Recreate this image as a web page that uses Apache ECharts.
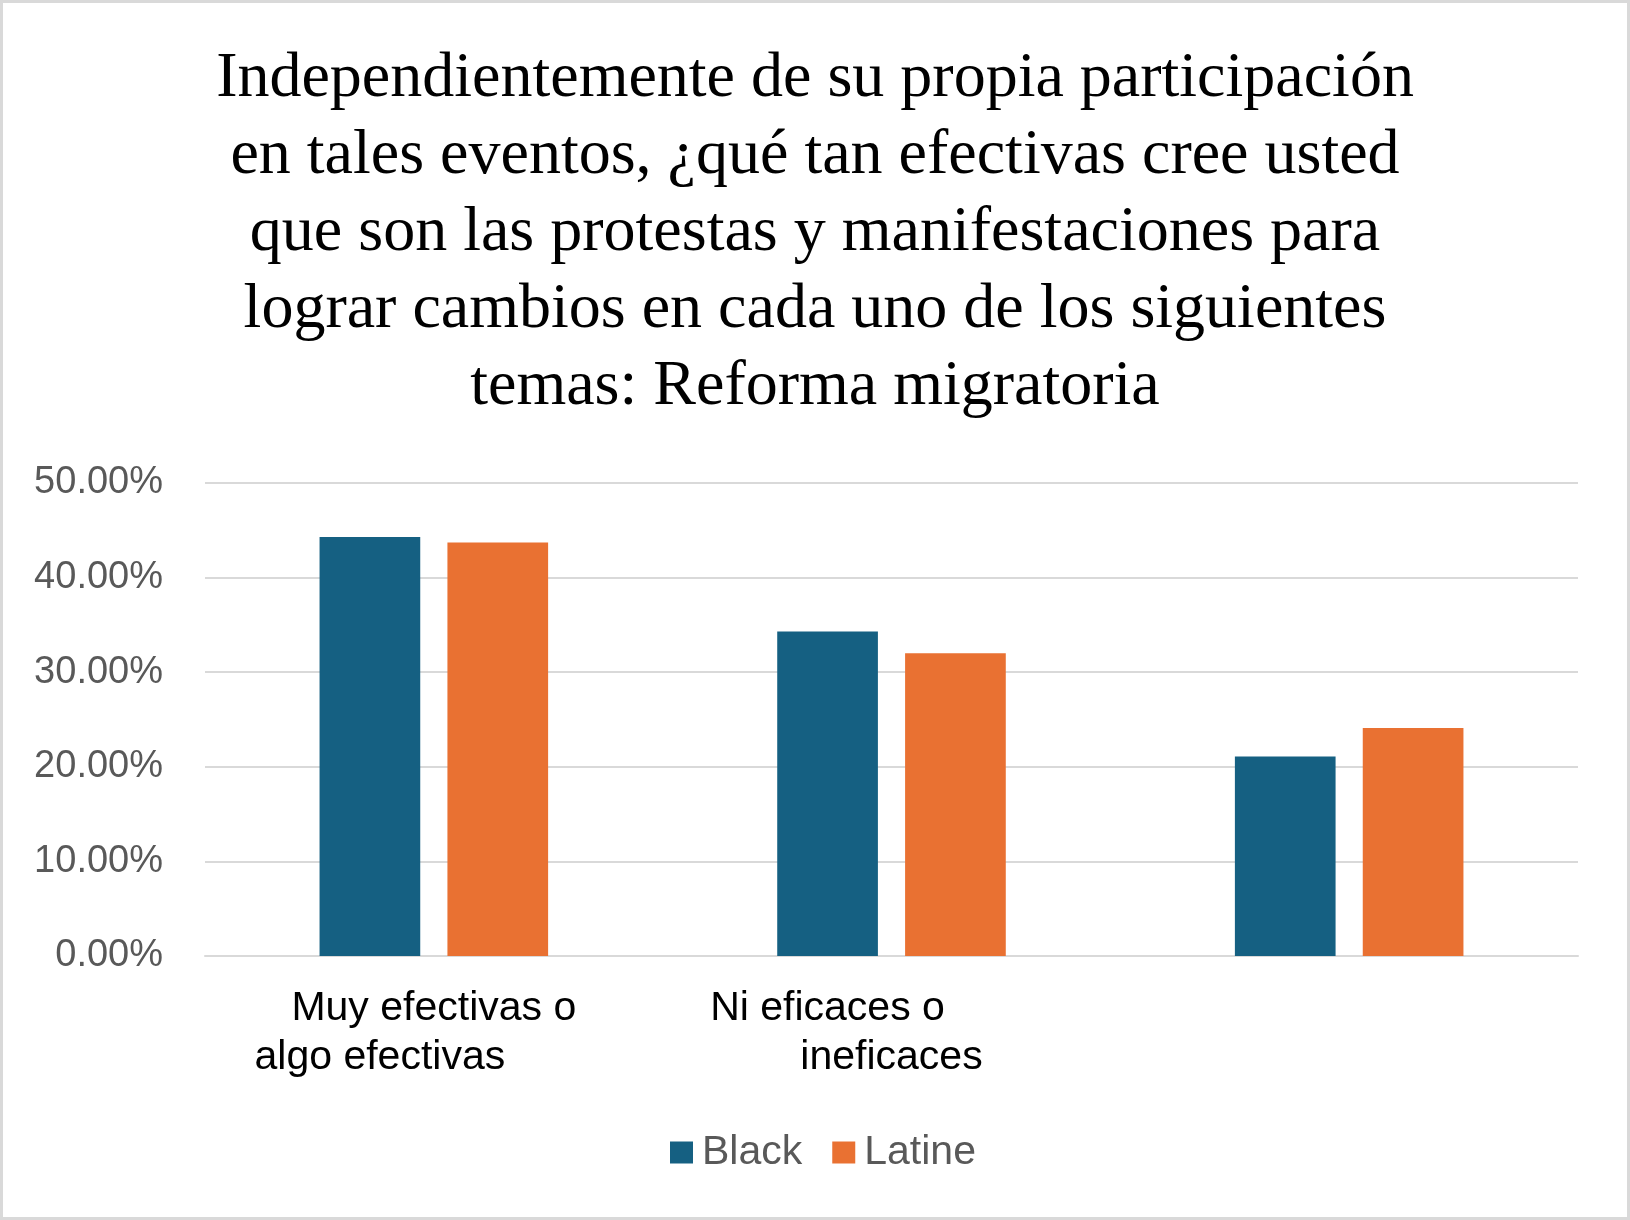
<!DOCTYPE html>
<html>
<head>
<meta charset="utf-8">
<script src="https://cdn.jsdelivr.net/npm/echarts@6/dist/echarts.min.js"></script>
<style>
  html, body { margin: 0; padding: 0; background: #fff; }
  #chart { width: 1630px; height: 1220px; }
</style>
</head>
<body>
<div id="chart"></div>
<script>
// data
var titleText = 'Independientemente de su propia participación\nen tales eventos, ¿qué tan efectivas cree usted\nque son las protestas y manifestaciones para\nlograr cambios en cada uno de los siguientes\ntemas: Reforma migratoria';
var categories = ['Muy efectivas o\nalgo efectivas', 'Ni eficaces o\nineficaces', ''];
var seriesNames = ['Black', 'Latine'];
var blackValues = [0.443, 0.343, 0.211];
var latineValues = [0.437, 0.320, 0.241];
var yTicks = [0, 0.1, 0.2, 0.3, 0.4, 0.5];

var colors = ['#156082', '#E97132'];
var sans = '"Liberation Sans", Arial, sans-serif';

var chartDom = document.getElementById('chart');
var myChart = echarts.init(chartDom);

// Excel left the wrapped labels slightly off-centre, shift lines like the original
function catLabel(value, index) {
  var lines = value.split('\n');
  if (index === 0) return '{c|' + lines[0] + '}\n{l|' + lines[1] + '}';
  if (index === 1) return '{l2|' + lines[0] + '}\n{c|' + lines[1] + '}';
  return value;
}

var option = {
  animation: false,
  color: colors,
  title: {
    text: titleText,
    left: 'center',
    top: 36,
    textStyle: {
      fontFamily: '"Liberation Serif", "Times New Roman", serif',
      fontWeight: 'normal',
      fontSize: 64,
      lineHeight: 77,
      color: '#000'
    }
  },
  legend: {
    data: seriesNames,
    left: 665,
    top: 1127,
    itemWidth: 23,
    itemHeight: 22,
    itemGap: 30,
    icon: 'rect',
    textStyle: {
      fontFamily: sans,
      fontSize: 41,
      color: '#595959',
      padding: [0, 0, 0, 4]
    }
  },
  grid: {
    left: 205,
    right: 52,
    top: 483,
    bottom: 264,
    containLabel: false
  },
  xAxis: {
    type: 'category',
    data: categories,
    axisTick: { show: false },
    axisLine: { show: true, lineStyle: { color: '#d9d9d9', width: 2 } },
    axisLabel: {
      margin: 28,
      interval: 0,
      formatter: catLabel,
      fontFamily: sans,
      fontSize: 41,
      lineHeight: 49,
      color: '#000',
      rich: {
        c: { fontFamily: sans, fontSize: 41, lineHeight: 49, color: '#000' },
        l: { fontFamily: sans, fontSize: 41, lineHeight: 49, color: '#000', padding: [0, 108, 0, 0] },
        l2: { fontFamily: sans, fontSize: 41, lineHeight: 49, color: '#000', padding: [0, 128, 0, 0] }
      }
    }
  },
  yAxis: {
    type: 'value',
    min: yTicks[0],
    max: yTicks[yTicks.length - 1],
    interval: 0.1,
    axisLine: { show: false },
    axisTick: { show: false },
    splitLine: { lineStyle: { color: '#d9d9d9', width: 2 } },
    axisLabel: {
      margin: 42,
      fontFamily: sans,
      fontSize: 38,
      color: '#595959',
      formatter: function (value) {
        return (value * 100).toFixed(2) + '%';
      }
    }
  },
  series: [
    {
      name: seriesNames[0],
      type: 'bar',
      barWidth: '22%',
      barGap: '27%',
      data: blackValues
    },
    {
      name: seriesNames[1],
      type: 'bar',
      barWidth: '22%',
      barGap: '27%',
      data: latineValues
    }
  ],
  graphic: [
    {
      type: 'rect',
      shape: { x: 1.5, y: 1.5, width: 1627, height: 1217 },
      style: { fill: 'none', stroke: '#d9d9d9', lineWidth: 3 },
      silent: true
    }
  ]
};
myChart.setOption(option);
</script>
</body>
</html>
